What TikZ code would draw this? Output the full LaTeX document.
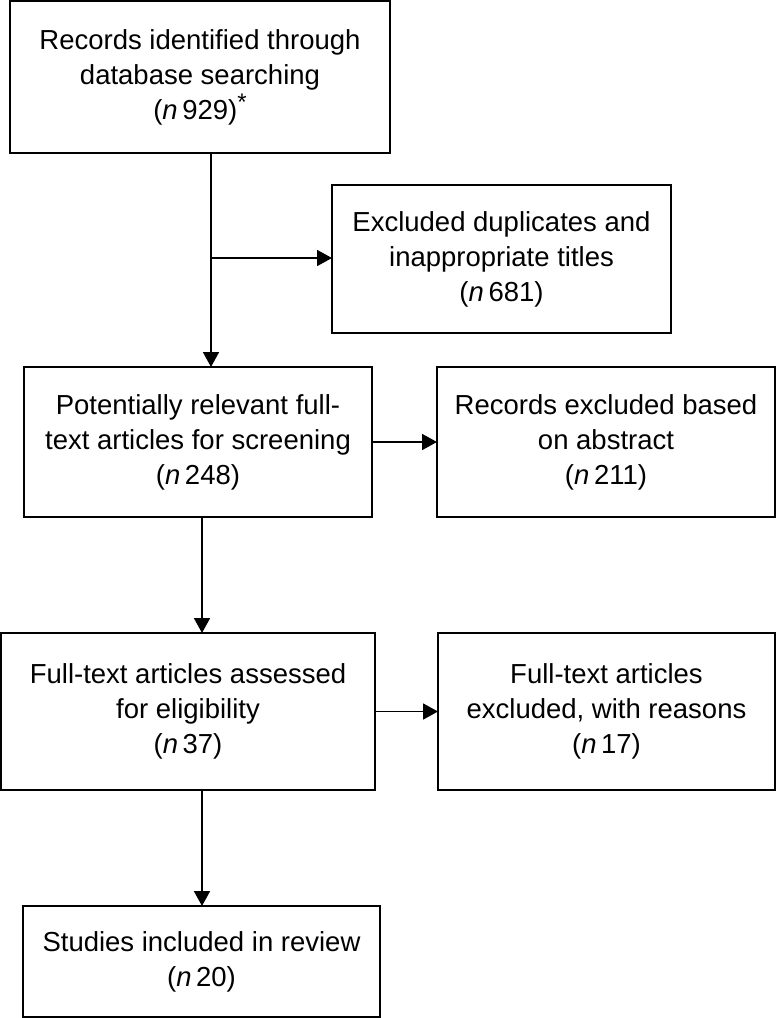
\documentclass[tikz,border=0pt]{standalone}
\usepackage{fontspec}
\setmainfont{Liberation Sans}
\usetikzlibrary{arrows.meta, positioning}

\begin{document}
\begin{tikzpicture}[
  x=1pt, y=-1pt,
  stage/.style={rectangle, draw, line width=1.8pt, inner sep=0pt, outer sep=0pt,
    align=center, font=\fontsize{27.5}{35}\selectfont},
  link/.style={line width=1.8pt, -{Triangle[length=15pt, width=16pt]}}
]
  \useasboundingbox (0,0) rectangle (777,1018);

  % Main column
  \node[stage, minimum width=380pt, minimum height=152pt] (recs) at (200,77)
    {Records identified through\\database searching\\(\textit{n}\,929)\raisebox{0.3em}{\fontsize{24}{24}\selectfont*}};
  \node[stage, minimum width=348pt, minimum height=150pt] (full) at (198,442)
    {Potentially relevant full-\\text articles for screening\\(\textit{n}\,248)};
  \node[stage, minimum width=374pt, minimum height=157pt] (elig) at (188,711.5)
    {Full-text articles assessed\\for eligibility\\(\textit{n}\,37)};
  \node[stage, minimum width=357pt, minimum height=111pt] (incl) at (201.5,961.5)
    {Studies included in review\\(\textit{n}\,20)};

  % Exclusions on the right
  \node[stage, minimum width=339pt, minimum height=148pt] (dups) at (501.5,259)
    {Excluded duplicates and\\inappropriate titles\\(\textit{n}\,681)};
  \node[stage, minimum width=338pt, minimum height=150pt] (abst) at (606,442)
    {Records excluded based\\on abstract\\(\textit{n}\,211)};
  \node[stage, minimum width=337pt, minimum height=157pt] (reas) at (606.5,711.5)
    {Full-text articles\\excluded, with reasons\\(\textit{n}\,17)};

  % Connections
  \coordinate (down1) at (211,153);
  \coordinate (branch) at (211,258);
  \coordinate (down2) at (202,517);
  \draw[link] (down1) -- (down1 |- full.north);
  \draw[link] (branch) -- (branch -| dups.west);
  \draw[link] (down2) -- (down2 |- elig.north);
  \draw[link] (down2 |- elig.south) -- (down2 |- incl.north);
  \foreach \a/\b in {full/abst, elig/reas} {
    \draw[link] (\a) -- (\b);
  }
\end{tikzpicture}
\end{document}
